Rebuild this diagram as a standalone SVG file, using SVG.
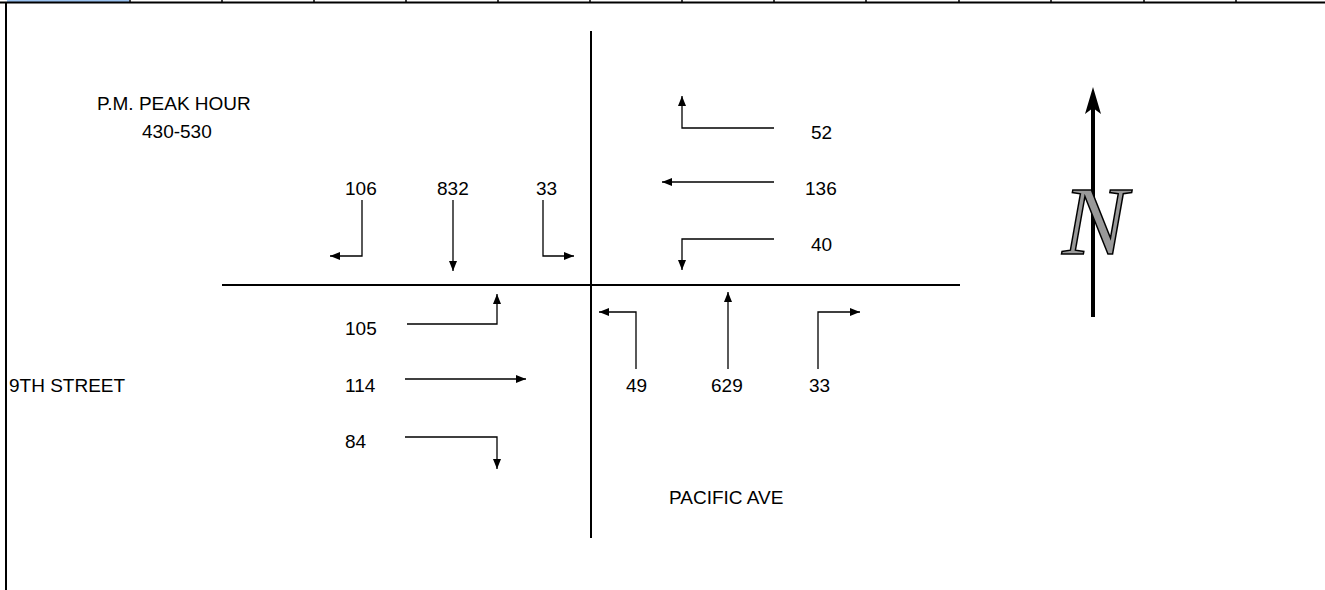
<svg xmlns="http://www.w3.org/2000/svg" width="1325" height="590" viewBox="0 0 1325 590">
<style>
.t{font-family:"Liberation Sans",Arial,sans-serif;font-size:19px;fill:#000}
.l{stroke:#000;stroke-width:1.3;fill:none}
.r{stroke:#000;stroke-width:2;fill:none}
</style>
<defs>
<marker id="ah" viewBox="0 0 10 8" refX="10" refY="4" markerWidth="10" markerHeight="8" markerUnits="userSpaceOnUse" orient="auto">
<path d="M0,0 L10,4 L0,8 Z" fill="#000"/>
</marker>
</defs>
<rect width="1325" height="590" fill="#fff"/>
<g id="sheet">
<rect x="7" y="0" width="122" height="2" fill="#9cc3f0"/>
<line x1="0" y1="2.5" x2="1325" y2="2.5" stroke="#000" stroke-width="2"/>
<line x1="6" y1="2" x2="6" y2="590" stroke="#000" stroke-width="2"/>
<g stroke="#000" stroke-width="1.5">
<line x1="130" y1="0" x2="130" y2="3"/><line x1="222" y1="0" x2="222" y2="3"/><line x1="314" y1="0" x2="314" y2="3"/><line x1="406" y1="0" x2="406" y2="3"/><line x1="498" y1="0" x2="498" y2="3"/><line x1="590" y1="0" x2="590" y2="3"/><line x1="682" y1="0" x2="682" y2="3"/><line x1="774" y1="0" x2="774" y2="3"/><line x1="866" y1="0" x2="866" y2="3"/><line x1="959" y1="0" x2="959" y2="3"/><line x1="1051" y1="0" x2="1051" y2="3"/><line x1="1144" y1="0" x2="1144" y2="3"/><line x1="1236" y1="0" x2="1236" y2="3"/>
</g>
</g>
<g id="roads">
<line class="r" x1="591" y1="31" x2="591" y2="538"/>
<line class="r" x1="222" y1="285" x2="960" y2="285"/>
</g>
<g id="labels">
<text class="t" x="97" y="110">P.M. PEAK HOUR</text>
<text class="t" x="142" y="138">430-530</text>
<text class="t" x="9" y="392">9TH STREET</text>
<text class="t" x="669" y="504">PACIFIC AVE</text>
</g>
<g id="volumes">
<text class="t" x="345" y="195">106</text>
<text class="t" x="437" y="195">832</text>
<text class="t" x="536" y="195">33</text>
<text class="t" x="811" y="139">52</text>
<text class="t" x="805" y="195">136</text>
<text class="t" x="811" y="251">40</text>
<text class="t" x="345" y="335">105</text>
<text class="t" x="345" y="392">114</text>
<text class="t" x="345" y="448">84</text>
<text class="t" x="626" y="392">49</text>
<text class="t" x="711" y="392">629</text>
<text class="t" x="809" y="392">33</text>
</g>
<g id="connectors">
<path class="l" d="M362,200 V256 H330" marker-end="url(#ah)"/>
<path class="l" d="M453,200 V271" marker-end="url(#ah)"/>
<path class="l" d="M543,200 V256 H574" marker-end="url(#ah)"/>
<path class="l" d="M774,128 H682 V96" marker-end="url(#ah)"/>
<path class="l" d="M774,182 H662" marker-end="url(#ah)"/>
<path class="l" d="M774,239 H682 V270" marker-end="url(#ah)"/>
<path class="l" d="M407,324 H497 V294" marker-end="url(#ah)"/>
<path class="l" d="M405,379 H526" marker-end="url(#ah)"/>
<path class="l" d="M405,437 H497 V469" marker-end="url(#ah)"/>
<path class="l" d="M636,369 V312 H599" marker-end="url(#ah)"/>
<path class="l" d="M728,369 V292" marker-end="url(#ah)"/>
<path class="l" d="M818,369 V312 H860" marker-end="url(#ah)"/>
</g>
<g id="north">
<line x1="1093" y1="317" x2="1093" y2="100" stroke="#000" stroke-width="4"/>
<path d="M1093,87 L1101,114 L1093,108 L1085,114 Z" fill="#000"/>
<text x="1095" y="254" text-anchor="middle" style="font-family:'Liberation Serif',serif;font-style:italic;font-size:98px;fill:#999;stroke:#000;stroke-width:1.5">N</text>
</g>
</svg>
